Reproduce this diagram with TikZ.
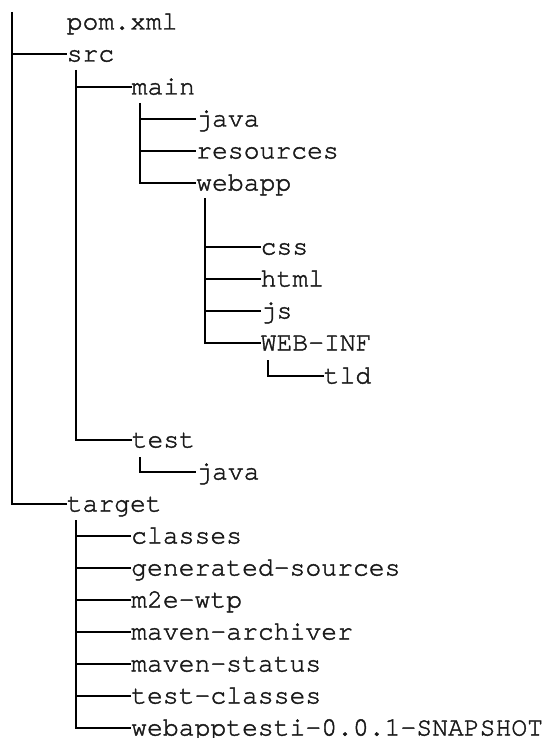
\documentclass[tikz,border=0pt]{standalone}
\usepackage{fontspec}
\newfontfamily\treefont{TeX Gyre Cursor}[FakeBold=1.6]
\tikzset{
  item/.style={anchor=west, inner sep=0pt, text height=18pt, text depth=3pt,
    font=\treefont\fontsize{26.4}{30}\selectfont, text=black!90},
  conn/.style={line width=1.3pt, black},
}
\begin{document}
\begin{tikzpicture}[x=1pt,y=-1pt]
\useasboundingbox (0,0) rectangle (550,738);
% level texts
\node[item] (pom) at (66.5,22) {pom.xml};
\node[item] (src) at (66.5,54) {src};
\node[item] (main) at (131.5,87) {main};
\node[item] (java) at (196,119) {java};
\node[item] (resources) at (196,151) {resources};
\node[item] (webapp) at (196,183) {webapp};
\node[item] (css) at (260.5,247) {css};
\node[item] (html) at (260.5,279) {html};
\node[item] (js) at (260.5,311) {js};
\node[item] (webinf) at (260.5,343) {WEB-INF};
\node[item] (tld) at (323.5,376) {tld};
\node[item] (test) at (131.5,440) {test};
\node[item] (tjava) at (196,472) {java};
\node[item] (target) at (66.5,504) {target};
\node[item] (classes) at (131,536) {classes};
\node[item] (gensrc) at (131,568) {generated-sources};
\node[item] (m2e) at (131,600) {m2e-wtp};
\node[item] (archiver) at (131,632) {maven-archiver};
\node[item] (status) at (131,664) {maven-status};
\node[item] (testcl) at (131,696) {test-classes};
\node[item] (snap) at (131,728) {webapptesti-0.0.1-SNAPSHOT};
% tree roots
\coordinate (r0) at (12,12);
\coordinate (r1) at (76,70);
\coordinate (r2) at (140,103);
\coordinate (r3) at (205,198);
\coordinate (r4) at (268,360);
\coordinate (r5) at (140,457);
\coordinate (r6) at (76,520);
% connectors
\draw[conn] (r0 |- src.west) -- (src.west);
\draw[conn] (r0) |- (target.west);
\draw[conn] (r1 |- main.west) -- (main.west);
\draw[conn] (r1) |- (test.west);
\draw[conn] (r2 |- java.west) -- (java.west);
\draw[conn] (r2 |- resources.west) -- (resources.west);
\draw[conn] (r2) |- (webapp.west);
\draw[conn] (r3 |- css.west) -- (css.west);
\draw[conn] (r3 |- html.west) -- (html.west);
\draw[conn] (r3 |- js.west) -- (js.west);
\draw[conn] (r3) |- (webinf.west);
\draw[conn] (r4) |- (tld.west);
\draw[conn] (r5) |- (tjava.west);
\draw[conn] (r6 |- classes.west) -- (classes.west);
\draw[conn] (r6 |- gensrc.west) -- (gensrc.west);
\draw[conn] (r6 |- m2e.west) -- (m2e.west);
\draw[conn] (r6 |- archiver.west) -- (archiver.west);
\draw[conn] (r6 |- status.west) -- (status.west);
\draw[conn] (r6 |- testcl.west) -- (testcl.west);
\draw[conn] (r6) |- (snap.west);
\end{tikzpicture}
\end{document}
